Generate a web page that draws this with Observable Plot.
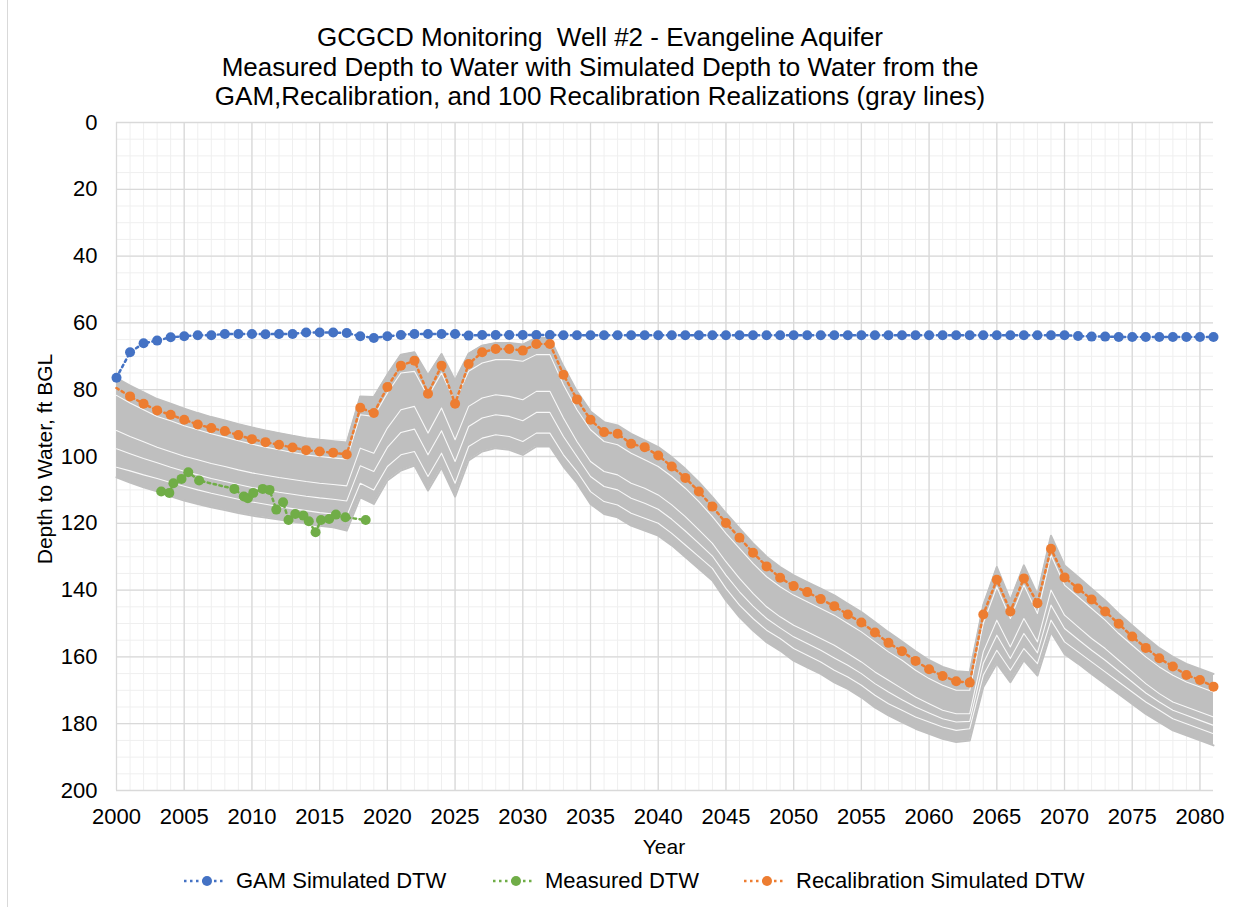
<!DOCTYPE html>
<html><head><meta charset="utf-8">
<script src="https://cdn.jsdelivr.net/npm/d3@7"></script>
<script src="https://cdn.jsdelivr.net/npm/@observablehq/plot@0.6"></script>
<style>
body{margin:0;background:#fff;font-family:"Liberation Sans",Arial,sans-serif;}
#wrap{position:relative;width:1251px;height:907px;overflow:hidden;background:#fff;}
#frame{position:absolute;left:7px;top:0;width:0;height:907px;border-left:1px solid #D9D9D9;}
#chart{position:absolute;left:0;top:0;}
#title{position:absolute;left:0;width:1200px;top:23px;text-align:center;font-size:26px;line-height:29.5px;color:#000;white-space:pre;}
#ytitle{position:absolute;left:45px;top:459px;transform:translate(-50%,-50%) rotate(-90deg);font-size:21px;white-space:nowrap;color:#000;}
#xtitle{position:absolute;left:664px;top:847px;transform:translate(-50%,-50%);font-size:21px;color:#000;}
.leg{position:absolute;top:881px;transform:translateY(-50%);display:flex;align-items:center;font-size:22px;color:#000;white-space:nowrap;}
.leg svg{margin-right:11px;}
</style></head><body>
<div id="wrap">
<div id="frame"></div>
<div id="chart"></div>
<div id="title">GCGCD Monitoring  Well #2 - Evangeline Aquifer
Measured Depth to Water with Simulated Depth to Water from the
GAM,Recalibration, and 100 Recalibration Realizations (gray lines)</div>
<div id="ytitle">Depth to Water, ft BGL</div>
<div id="xtitle">Year</div>
<div id="legend"></div>
</div>
<script>
// ---- data ----
const years = [2000,2001,2002,2003,2004,2005,2006,2007,2008,2009,2010,2011,2012,2013,2014,2015,2016,2017,2018,2019,
2020,2021,2022,2023,2024,2025,2026,2027,2028,2029,2030,2031,2032,2033,2034,2035,2036,2037,2038,2039,
2040,2041,2042,2043,2044,2045,2046,2047,2048,2049,2050,2051,2052,2053,2054,2055,2056,2057,2058,2059,
2060,2061,2062,2063,2064,2065,2066,2067,2068,2069,2070,2071,2072,2073,2074,2075,2076,2077,2078,2079,2080,2081];

const gamDTW = [76.4,68.8,66.1,65.3,64.3,64.0,63.7,63.7,63.3,63.3,63.3,63.4,63.3,63.3,62.9,62.9,62.9,63.0,64.0,64.5,
64.0,63.6,63.3,63.3,63.3,63.3,63.8,63.6,63.6,63.6,63.6,63.6,63.6,63.7,63.7,63.7,63.7,63.7,63.7,63.7,
63.7,63.7,63.7,63.7,63.7,63.7,63.7,63.7,63.7,63.7,63.7,63.7,63.7,63.7,63.7,63.7,63.7,63.7,63.7,63.7,
63.7,63.7,63.7,63.7,63.7,63.7,63.7,63.7,63.7,63.7,63.7,63.9,64.1,64.1,64.2,64.2,64.2,64.2,64.2,64.2,64.2,64.2];

const recalDTW = [79.5,82.0,84.2,86.2,87.5,89.0,90.4,91.5,92.4,93.6,94.8,95.7,96.5,97.3,98.1,98.5,98.9,99.4,85.4,87.0,
79.2,72.8,71.3,81.2,72.8,84.2,72.3,68.8,67.8,67.8,68.3,66.3,66.3,75.5,82.9,89.0,92.7,93.2,96.2,97.2,
99.7,103.0,106.4,110.5,115.0,119.9,124.3,128.8,132.9,136.3,138.8,140.6,142.7,144.8,147.3,149.7,152.7,155.8,158.3,161.2,
163.7,165.7,167.3,167.7,147.3,136.9,146.4,136.5,143.9,127.6,136.2,139.5,142.8,146.4,150.1,153.9,157.3,160.4,162.9,165.4,166.9,168.9];

// gray band of the 100 realizations: shallowest and deepest line per year
const realizTop = [76.5,78.8,80.8,82.8,84.2,85.7,87.0,88.2,89.2,90.3,91.3,92.2,93.0,93.8,94.5,95.0,95.4,95.8,82.0,82.2,
75.5,69.5,68.8,75.7,69.3,77.2,69.2,66.8,66.0,66.0,66.5,64.5,64.5,73.0,80.5,86.5,89.7,90.7,93.2,95.2,
97.2,100.2,103.7,107.7,112.2,117.0,121.5,126.0,130.0,133.1,135.6,137.6,139.6,141.6,144.1,146.6,149.6,152.6,155.4,158.3,
161.0,163.0,164.3,164.6,144.5,133.1,143.1,132.6,141.4,123.7,132.6,136.1,139.6,143.1,147.1,150.6,154.1,157.4,160.0,162.1,163.6,165.1];

const realizBottom = [106.2,107.8,109.2,110.4,111.9,113.2,114.2,115.2,116.0,116.9,117.7,118.3,118.9,119.5,120.1,120.7,121.2,122.2,112.2,114.2,
107.2,104.2,102.7,110.2,103.3,112.0,101.2,98.5,97.5,98.0,99.5,97.0,97.0,103.0,108.0,114.2,117.2,118.2,120.7,122.2,
123.7,126.6,130.1,133.6,137.1,143.1,148.1,152.1,155.6,158.1,161.1,163.1,165.1,167.6,169.6,172.1,175.1,177.5,179.5,181.5,
183.0,184.5,185.5,185.0,169.0,162.0,167.6,161.0,165.6,152.6,159.1,162.0,165.1,168.1,171.1,174.1,177.1,179.5,182.0,183.5,185.0,186.5];

// visible white gaps between groups of realization lines
const gapA = [81.7,84.0,86.0,88.0,89.3,90.8,92.0,93.2,94.2,95.3,96.3,97.2,98.0,98.8,99.5,100.0,100.4,100.8,87.5,88.0,
81.0,75.0,74.5,82.0,75.0,83.5,74.5,72.0,71.0,71.0,71.5,69.5,69.5,78.5,86.0,92.0,95.5,96.5,99.0,101.0,
103.0,106.0,109.5,113.5,118.0,123.0,127.5,132.0,136.0,139.0,141.5,143.5,145.5,147.5,150.0,152.5,155.5,158.5,161.0,164.0,
166.5,168.5,170.0,170.0,150.0,139.0,148.5,138.5,147.0,129.5,138.5,142.0,145.5,149.0,153.0,156.5,160.0,163.0,165.5,167.5,169.0,170.5];
const gapB = [92.2,94.0,95.6,97.2,98.6,99.9,101.0,102.1,103.0,104.0,104.9,105.6,106.3,106.9,107.5,108.0,108.4,108.8,97.5,99.0,
91.5,86.0,85.0,93.0,85.5,95.0,85.0,82.5,81.5,82.0,83.0,80.5,80.5,88.5,95.5,101.5,104.5,105.5,108.0,109.5,
111.5,114.5,118.0,122.0,126.0,131.5,136.5,141.0,145.0,148.0,150.5,152.5,154.5,156.5,159.0,161.5,164.5,167.0,169.5,172.0,
174.0,176.0,177.0,177.0,158.5,149.0,157.0,148.5,155.5,140.0,147.5,151.0,154.5,157.5,161.0,164.5,168.0,171.0,173.5,175.0,176.5,178.0];
const gapD = [97.7,99.2,100.6,101.9,103.2,104.4,105.5,106.6,107.5,108.4,109.3,110.0,110.7,111.3,111.9,112.4,112.8,113.3,102.8,104.5,
97.3,92.8,91.8,99.5,92.3,101.5,91.0,88.5,87.5,88.0,89.3,86.8,86.8,94.0,100.0,106.0,109.0,110.0,112.5,114.0,
115.8,118.8,122.3,126.0,129.8,135.5,140.5,144.8,148.5,151.3,154.0,156.0,158.0,160.3,162.5,165.0,168.0,170.5,172.8,175.0,
176.8,178.5,179.5,179.3,162.0,153.5,160.5,153.0,158.8,144.5,151.5,154.8,158.0,161.0,164.3,167.5,170.8,173.5,176.0,177.5,179.0,180.5];
const gapC = [103.2,104.3,105.5,106.6,107.8,108.9,110.0,111.0,111.9,112.8,113.6,114.3,115.0,115.6,116.2,116.8,117.2,117.8,108.0,110.0,
103.0,99.5,98.5,106.0,99.0,108.0,97.0,94.5,93.5,94.0,95.5,93.0,93.0,99.5,104.5,110.5,113.5,114.5,117.0,118.5,
120.0,123.0,126.5,130.0,133.5,139.5,144.5,148.5,152.0,154.5,157.5,159.5,161.5,164.0,166.0,168.5,171.5,174.0,176.0,178.0,
179.5,181.0,182.0,181.5,165.5,158.0,164.0,157.5,162.0,149.0,155.5,158.5,161.5,164.5,167.5,170.5,173.5,176.0,178.5,180.0,181.5,183.0];

const measuredYear = [2003.3,2003.9,2004.2,2004.8,2005.3,2006.1,2008.7,2009.4,2009.7,2010.1,2010.8,2011.3,
2011.8,2012.3,2012.7,2013.2,2013.8,2014.2,2014.7,2015.1,2015.7,2016.2,2016.9,2018.4];
const measuredDTW = [110.5,110.9,108.0,106.7,104.7,107.2,109.7,112.0,112.5,110.9,109.7,110.0,
115.9,113.7,119.0,117.2,117.7,119.4,122.7,119.0,118.7,117.4,118.2,119.0];

const xTicks = [2000,2005,2010,2015,2020,2025,2030,2035,2040,2045,2050,2055,2060,2065,2070,2075,2080];
const yTicks = [0,20,40,60,80,100,120,140,160,180,200];
const xMinor = d3.range(2000, 2081, 1);
const yMinor = d3.range(0, 201, 5);

const seriesNames = ["GAM Simulated DTW","Measured DTW","Recalibration Simulated DTW"];
const seriesColors = ["#4472C4","#70AD47","#ED7D31"];

// ---- tables built from the arrays ----
const annual = years.map((yr,i)=>({year:yr, gam:gamDTW[i], recal:recalDTW[i], top:realizTop[i], bottom:realizBottom[i],
  ga:gapA[i], gb:gapB[i], gd:gapD[i], gc:gapC[i]}));
const measured = measuredYear.map((yr,i)=>({year:yr, dtw:measuredDTW[i]}));

const dash = "2.5 3.5";
const gapStyle = {stroke:"#FFFFFF", strokeWidth:1.1, strokeOpacity:0.9};
const chart = Plot.plot({
  width:1251, height:870,
  marginLeft:116, marginRight:38, marginTop:122, marginBottom:80,
  style:{fontFamily:"'Liberation Sans', Arial, sans-serif", fontSize:"22px", color:"#000", background:"transparent"},
  x:{domain:[2000,2081], ticks:xTicks, tickFormat:d=>String(d), tickSize:0, tickPadding:18, label:null},
  y:{domain:[0,200], reverse:true, ticks:yTicks, tickSize:0, tickPadding:19, label:null},
  marks:[
    Plot.ruleX(xMinor, {stroke:"#EFEFEF", strokeWidth:1}),
    Plot.ruleY(yMinor, {stroke:"#EFEFEF", strokeWidth:1}),
    Plot.ruleX(xTicks, {stroke:"#D9D9D9", strokeWidth:1.3}),
    Plot.ruleY(yTicks, {stroke:"#D9D9D9", strokeWidth:1.3}),
    Plot.areaY(annual, {x:"year", y1:"bottom", y2:"top", fill:"#BFBFBF"}),
    Plot.line(annual, {x:"year", y:"top", stroke:"#BFBFBF", strokeWidth:2}),
    Plot.line(annual, {x:"year", y:"bottom", stroke:"#BFBFBF", strokeWidth:2}),
    Plot.line(annual, {x:"year", y:"ga", ...gapStyle}),
    Plot.line(annual, {x:"year", y:"gb", ...gapStyle}),
    Plot.line(annual, {x:"year", y:"gd", ...gapStyle}),
    Plot.line(annual, {x:"year", y:"gc", ...gapStyle}),
    Plot.line(annual, {x:"year", y:"gam", stroke:seriesColors[0], strokeWidth:2.5, strokeDasharray:dash}),
    Plot.dot(annual, {x:"year", y:"gam", r:5, fill:seriesColors[0]}),
    Plot.line(measured, {x:"year", y:"dtw", stroke:seriesColors[1], strokeWidth:2.5, strokeDasharray:dash}),
    Plot.dot(measured, {x:"year", y:"dtw", r:5, fill:seriesColors[1]}),
    Plot.line(annual, {x:"year", y:"recal", stroke:seriesColors[2], strokeWidth:2.5, strokeDasharray:dash}),
    Plot.dot(annual.filter(d=>d.year>2000), {x:"year", y:"recal", r:5, fill:seriesColors[2]})
  ]
});
document.getElementById("chart").appendChild(chart);

// ---- legend ----
const legLeft = [183, 492, 743];
const legend = document.getElementById("legend");
seriesNames.forEach((name,i)=>{
  const div = document.createElement("div");
  div.className = "leg";
  div.style.left = legLeft[i] + "px";
  const c = seriesColors[i];
  div.innerHTML = `<svg width="42" height="14"><line x1="1" y1="7" x2="41" y2="7" stroke="${c}" stroke-width="2.5" stroke-dasharray="${dash}"/><circle cx="24" cy="7" r="5" fill="${c}"/></svg><span>${name}</span>`;
  legend.appendChild(div);
});
</script>
</body></html>
